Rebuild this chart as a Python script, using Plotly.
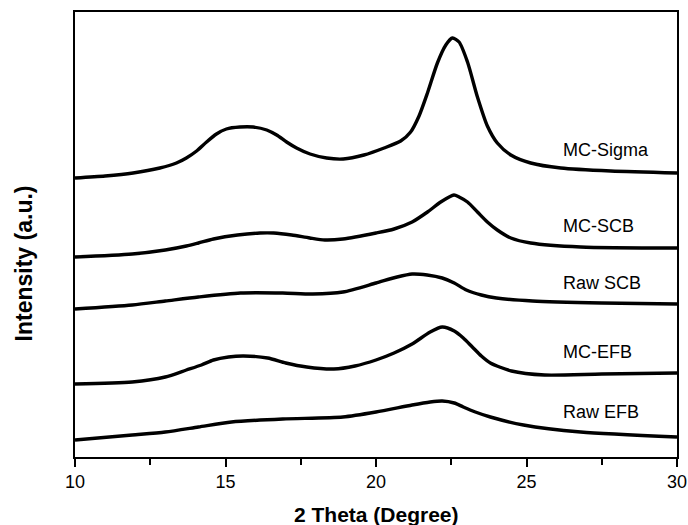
import plotly.graph_objects as go

# 2-theta positions (degree) and intensities (a.u.)
mc_sigma_x = [10.0, 11.0, 11.93, 12.82, 13.37, 13.70, 14.04, 14.37, 14.70, 15.03, 15.48, 15.92, 16.37, 16.70,
              17.03, 17.36, 17.81, 18.36, 18.91, 19.6, 20.27, 20.82, 21.15, 21.43, 21.71, 22.04, 22.32,
              22.54, 22.76, 23.04, 23.37, 23.70, 24.03, 24.48, 25.14, 26.14, 27.8, 30.0]
mc_sigma_y = [279, 281, 284, 289, 294, 299, 306, 315, 323, 328, 330, 330, 327, 322,
              315, 309, 303, 299, 298, 302, 309, 316, 325, 341, 364, 394, 412,
              419, 415, 395, 360, 331, 314, 302, 294, 289, 286, 284]

mc_scb_x = [10.0, 11.9, 13.0, 13.7, 14.1, 14.6, 15.4, 16.15, 16.6, 17.2, 17.8, 18.3, 18.9, 20.0, 20.6,
            21.2, 21.71, 22.15, 22.59, 22.76, 23.04, 23.37, 23.70, 24.03, 24.48, 25.14, 26.8, 30.0]
mc_scb_y = [200, 203, 207, 211, 214, 218, 222, 224, 224, 222, 219, 217, 218, 224, 228,
            235, 245, 255, 262, 260, 255, 245, 235, 227, 219, 214, 210, 209]

raw_scb_x = [10.0, 11.9, 13.0, 14.1, 15.5, 16.9, 17.9, 18.9, 20.0, 20.7, 21.2, 21.7, 22.2, 22.6, 23.0,
             23.5, 24.0, 25.2, 27.5, 30.0]
raw_scb_y = [148, 152, 156, 160, 164, 164, 163, 165, 174, 180, 183, 182, 179, 174, 167,
             162, 159, 156, 154, 153]

mc_efb_x = [10.0, 11.9, 13.0, 13.7, 14.2, 14.6, 15.1, 15.6, 16.4, 17.0, 17.7, 18.6, 19.3, 20.0, 20.6,
            21.2, 21.8, 22.2, 22.6, 22.9, 23.2, 23.5, 23.8, 24.5, 25.6, 27.5, 30.0]
mc_efb_y = [73, 75, 80, 87, 92, 97, 100, 101, 99, 94, 90, 88, 91, 97, 104,
            113, 125, 130, 126, 119, 110, 101, 94, 86, 82, 83, 84]

raw_efb_x = [10.0, 11.9, 13.0, 14.1, 15.2, 16.9, 18.9, 20.0, 21.2, 21.8, 22.2, 22.6, 22.9, 23.3,
             23.8, 24.9, 26.8, 30.0]
raw_efb_y = [17, 22, 25, 30, 35, 38, 40, 45, 52, 55, 56, 54, 50, 45,
             40, 32, 25, 20]

series_names = ["MC-Sigma", "MC-SCB", "Raw SCB", "MC-EFB", "Raw EFB"]
series_x = [mc_sigma_x, mc_scb_x, raw_scb_x, mc_efb_x, raw_efb_x]
series_y = [mc_sigma_y, mc_scb_y, raw_scb_y, mc_efb_y, raw_efb_y]
label_x = 26.15
label_y = [307, 231, 174, 105, 45]

FONT = "Arial, 'Liberation Sans', sans-serif"

fig = go.Figure()
for name, xs, ys in zip(series_names, series_x, series_y):
    fig.add_trace(go.Scatter(x=xs, y=ys, mode="lines", name=name,
                             line=dict(color="black", width=3.4, shape="spline", smoothing=0.7),
                             showlegend=False))

for name, ly in zip(series_names, label_y):
    fig.add_annotation(x=label_x, y=ly, xref="x", yref="y", text=name, showarrow=False,
                       xanchor="left", yanchor="middle", font=dict(family=FONT, size=18, color="black"))

fig.add_annotation(x=0.5, y=-0.13, xref="paper", yref="paper", text="<b>2 Theta (Degree)</b>",
                   showarrow=False, xanchor="center", yanchor="middle",
                   font=dict(family=FONT, size=21, color="black"))
fig.add_annotation(x=-0.084, y=0.436, xref="paper", yref="paper", text="<b>Intensity (a.u.)</b>",
                   showarrow=False, xanchor="center", yanchor="middle", textangle=-90,
                   font=dict(family=FONT, size=23, color="black"))

fig.update_layout(
    width=688, height=525,
    margin=dict(l=75, r=11, t=12, b=68, autoexpand=False),
    plot_bgcolor="white", paper_bgcolor="white",
    font=dict(family=FONT, color="black"),
    xaxis=dict(range=[10, 30], dtick=5, tick0=10, ticks="outside", ticklen=8, tickwidth=1.5,
               tickcolor="black", showline=True, linecolor="black", linewidth=1.5, mirror=True,
               showgrid=False, zeroline=False, automargin=False,
               tickfont=dict(family=FONT, size=18, color="black"),
               minor=dict(dtick=2.5, tick0=10, ticks="outside", ticklen=6, tickwidth=1.5,
                          tickcolor="black", showgrid=False)),
    yaxis=dict(range=[0, 445], showticklabels=False, ticks="", showline=True, linecolor="black",
               linewidth=1.5, mirror=True, showgrid=False, zeroline=False, automargin=False),
)

fig.write_html("out.html")
